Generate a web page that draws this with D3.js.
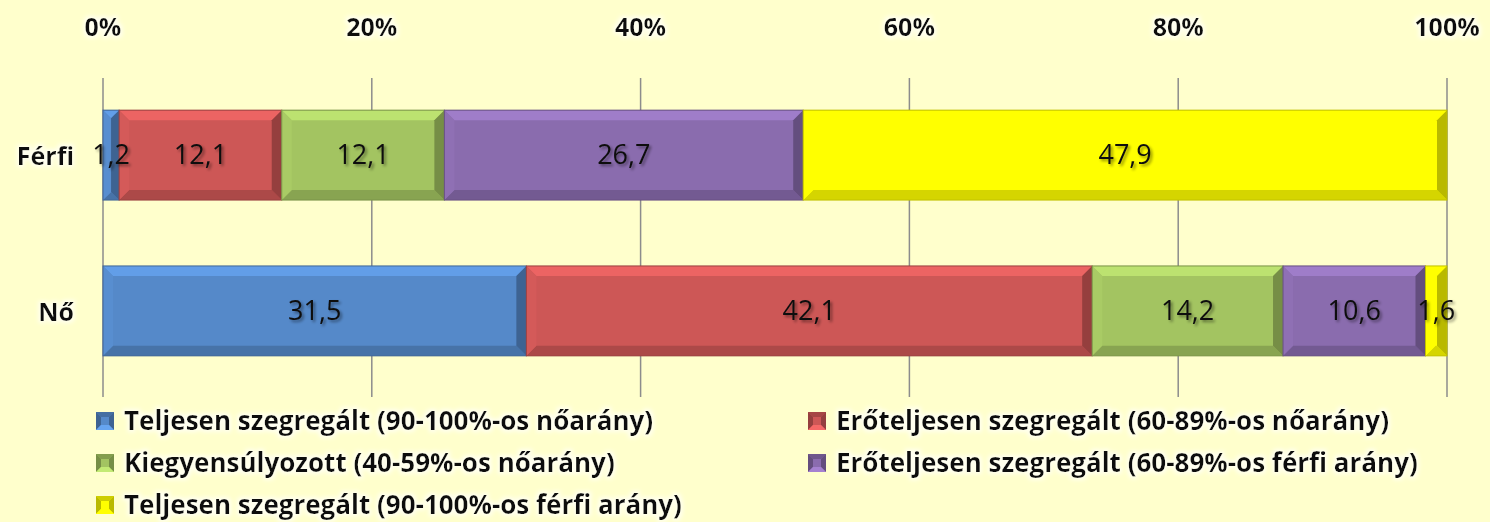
<!DOCTYPE html>
<html>
<head>
<meta charset="utf-8">
<script src="https://cdn.jsdelivr.net/npm/d3@7"></script>
<style>
  body { margin: 0; background: #FFFFCC; }
  svg { display: block; font-family: "Open Sans", sans-serif; }
  .tick-label { font-size: 25px; font-weight: 700; fill: #111; }
  .cat-label { font-size: 25px; font-weight: 700; fill: #111; }
  .val-label { font-size: 27px; fill: #111; }
  .legend-label { font-size: 26px; font-weight: 700; fill: #111; }
</style>
</head>
<body>
<svg id="chart"></svg>
<script>
const categories = ["Férfi", "Nő"];
const seriesNames = [
  "Teljesen szegregált (90-100%-os nőarány)",
  "Erőteljesen szegregált (60-89%-os nőarány)",
  "Kiegyensúlyozott (40-59%-os nőarány)",
  "Erőteljesen szegregált (60-89%-os férfi arány)",
  "Teljesen szegregált (90-100%-os férfi arány)"
];
const ferfiValues = [1.2, 12.1, 12.1, 26.7, 47.9];
const noValues = [31.5, 42.1, 14.2, 10.6, 1.6];
const tickValues = [0, 20, 40, 60, 80, 100];
const colors = ["#5589C9", "#CD5756", "#A3C461", "#8A6CAE", "#FFFF00"];

const width = 1490, height = 522;
const margin = {top: 78, right: 43, bottom: 125, left: 103};

const svg = d3.select("#chart").attr("width", width).attr("height", height);

const defs = svg.append("defs");
const glow = defs.append("filter").attr("id", "glow").attr("x", "-20%").attr("y", "-40%").attr("width", "140%").attr("height", "180%");
glow.append("feMorphology").attr("in", "SourceAlpha").attr("operator", "dilate").attr("radius", 2).attr("result", "d");
glow.append("feGaussianBlur").attr("in", "d").attr("stdDeviation", 2).attr("result", "b");
glow.append("feFlood").attr("flood-color", "#FFFFF0");
glow.append("feComposite").attr("in2", "b").attr("operator", "in").attr("result", "g");
const gm = glow.append("feMerge");
gm.append("feMergeNode").attr("in", "g");
gm.append("feMergeNode").attr("in", "SourceGraphic");

const shadow = defs.append("filter").attr("id", "shadow").attr("x", "-20%").attr("y", "-40%").attr("width", "150%").attr("height", "200%");
shadow.append("feGaussianBlur").attr("in", "SourceAlpha").attr("stdDeviation", 1.5).attr("result", "b");
shadow.append("feOffset").attr("in", "b").attr("dx", 2).attr("dy", 2).attr("result", "o");
shadow.append("feComponentTransfer").attr("in", "o").attr("result", "s")
  .append("feFuncA").attr("type", "linear").attr("slope", 0.45);
const sm = shadow.append("feMerge");
sm.append("feMergeNode").attr("in", "s");
sm.append("feMergeNode").attr("in", "SourceGraphic");

const x = d3.scaleLinear().domain([0, 100]).range([margin.left, width - margin.right]);
const y = d3.scaleBand().domain(categories).range([79, 387]).paddingInner(0.423).paddingOuter(0.2);

// gridlines
svg.append("g").selectAll("line").data(tickValues).join("line")
  .attr("x1", d => x(d)).attr("x2", d => x(d))
  .attr("y1", margin.top).attr("y2", height - margin.bottom)
  .attr("stroke", "#8C8C8C").attr("stroke-width", 1.5);

// top axis labels
svg.append("g").selectAll("text").data(tickValues).join("text")
  .attr("class", "tick-label")
  .attr("x", d => x(d)).attr("y", 36)
  .attr("text-anchor", "middle")
  .attr("filter", "url(#glow)")
  .text(d => d + "%");

const rows = [ferfiValues, noValues];
const bevel = 10;

rows.forEach((vals, ri) => {
  const cat = categories[ri];
  const y0 = y(cat), bh = y.bandwidth();
  let cum = 0;
  const g = svg.append("g");
  vals.forEach((v, si) => {
    const x0 = x(cum), x1 = x(cum + v);
    cum += v;
    const w = x1 - x0;
    const b = Math.min(bevel, w / 2, bh / 2);
    const c = d3.color(colors[si]);
    const seg = g.append("g");
    seg.append("rect").attr("x", x0).attr("y", y0).attr("width", w).attr("height", bh).attr("fill", c);
    // top bevel
    seg.append("path").attr("d", `M${x0},${y0}L${x1},${y0}L${x1 - b},${y0 + b}L${x0 + b},${y0 + b}Z`)
      .attr("fill", c.brighter(0.4));
    // bottom bevel
    seg.append("path").attr("d", `M${x0},${y0 + bh}L${x1},${y0 + bh}L${x1 - b},${y0 + bh - b}L${x0 + b},${y0 + bh - b}Z`)
      .attr("fill", c.darker(0.5));
    // left bevel
    seg.append("path").attr("d", `M${x0},${y0}L${x0 + b},${y0 + b}L${x0 + b},${y0 + bh - b}L${x0},${y0 + bh}Z`)
      .attr("fill", c.brighter(0.1));
    // right bevel
    seg.append("path").attr("d", `M${x1},${y0}L${x1 - b},${y0 + b}L${x1 - b},${y0 + bh - b}L${x1},${y0 + bh}Z`)
      .attr("fill", c.darker(0.9));
    seg.append("rect").attr("x", x0).attr("y", y0).attr("width", w).attr("height", bh)
      .attr("fill", "none").attr("stroke", c.darker(0.8)).attr("stroke-width", 1);
  });
  // value labels
  cum = 0;
  vals.forEach((v) => {
    const cx = x(cum + v / 2);
    cum += v;
    svg.append("text").attr("class", "val-label")
      .attr("x", cx).attr("y", y0 + bh / 2 + 9)
      .attr("text-anchor", "middle")
      .attr("filter", "url(#shadow)")
      .text(d3.format(".1f")(v).replace(".", ","));
  });
  svg.append("text").attr("class", "cat-label")
    .attr("x", 74).attr("y", y0 + bh / 2 + 10)
    .attr("text-anchor", "end")
    .attr("filter", "url(#glow)")
    .text(cat);
});

// legend
const legendPos = [[96, 430], [808, 430], [96, 472], [808, 472], [96, 514]];
seriesNames.forEach((name, i) => {
  const [lx, ly] = legendPos[i];
  const c = d3.color(colors[i]);
  const s = 18, lb = 5, top = ly - 18;
  const lg = svg.append("g");
  lg.append("rect").attr("x", lx).attr("y", top).attr("width", s).attr("height", s).attr("fill", c);
  lg.append("path").attr("d", `M${lx},${top}L${lx + s},${top}L${lx + s - lb},${top + lb}L${lx + lb},${top + lb}Z`).attr("fill", c.darker(0.6));
  lg.append("path").attr("d", `M${lx + s},${top}L${lx + s},${top + s}L${lx + s - lb},${top + s - lb}L${lx + s - lb},${top + lb}Z`).attr("fill", c.darker(0.9));
  lg.append("path").attr("d", `M${lx},${top}L${lx + lb},${top + lb}L${lx + lb},${top + s - lb}L${lx},${top + s}Z`).attr("fill", c.darker(0.9));
  lg.append("path").attr("d", `M${lx},${top + s}L${lx + s},${top + s}L${lx + s - lb},${top + s - lb}L${lx + lb},${top + s - lb}Z`).attr("fill", c.brighter(0.5));
  lg.append("text").attr("class", "legend-label")
    .attr("x", lx + 28).attr("y", ly)
    .attr("filter", "url(#glow)")
    .text(name);
});
</script>
</body>
</html>
